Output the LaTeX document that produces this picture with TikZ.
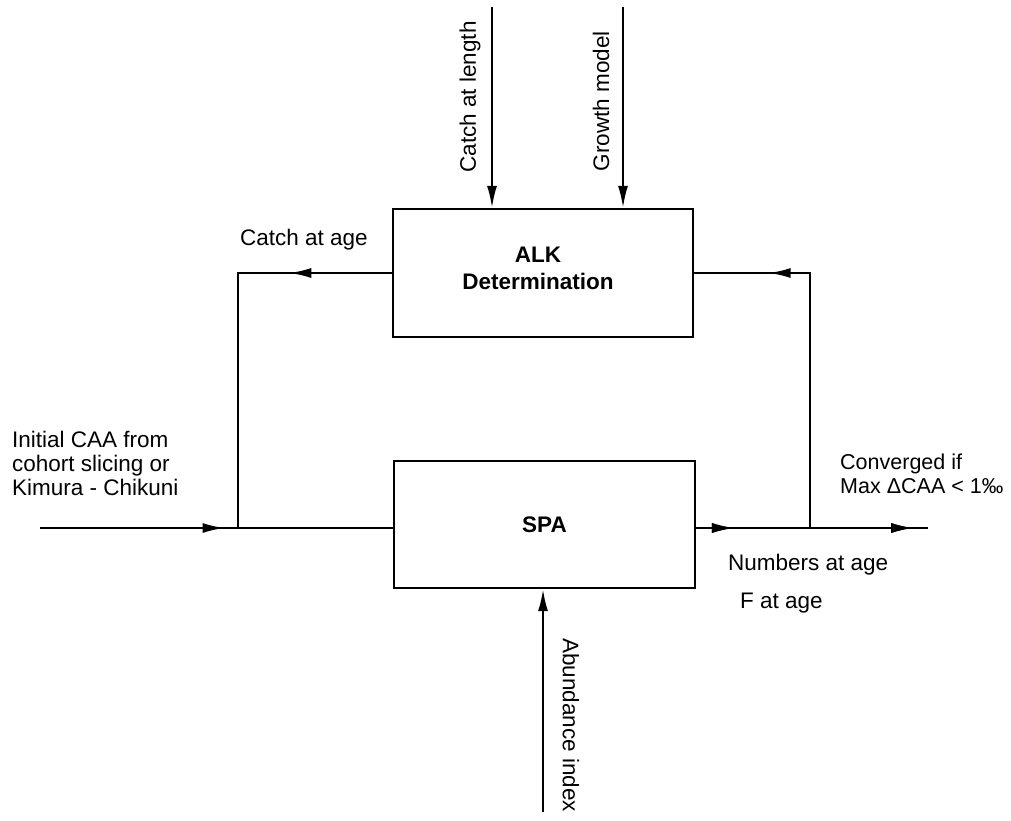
\documentclass[tikz,border=0pt]{standalone}
\usepackage{fontspec}
\setmainfont{Liberation Sans}
\usetikzlibrary{arrows.meta,decorations.markings}
\tikzset{
  box/.style={draw, line width=2.2pt, inner sep=0pt, font=\fontsize{22.5}{24}\selectfont\bfseries},
  line/.style={line width=2.2pt},
  tip/.style={-{Latex[length=22pt,width=10pt]}},
  tipat/.style={decoration={markings, mark=at position #1 with {\arrow{Latex[length=22pt,width=10pt]}}}, postaction=decorate},
  lbl/.style={inner sep=0pt, font=\fontsize{22.5}{24}\selectfont, align=left},
}
\begin{document}
\begin{tikzpicture}[x=1pt,y=-1pt]
\useasboundingbox (0,0) rectangle (1011,820);
% boxes
\node[box, minimum width=300pt, minimum height=128pt] (alk) at (543,273) {};
\node[lbl, font=\fontsize{22.5}{27}\selectfont\bfseries, align=center] (alkt) at (538,268) {ALK\\Determination};
\node[box, minimum width=301pt, minimum height=127pt] (spa) at (544.5,524.5) {SPA};
% coordinates
\coordinate (in0) at (40,528);
\coordinate (j1) at (238,528);
\coordinate (j2) at (810,528);
\coordinate (out) at (928,528);
\coordinate (cl) at (492,7);
\coordinate (gm) at (623,7);
\coordinate (ai) at (543,812);
% connectors
\draw[line, tipat=0.523] (in0) -- (in0 -| spa.west);
\draw[line, tipat=0.251] (alk.west) -| (j1);
\draw[line, tipat=0.163, tipat=0.936] (spa.east |- out) -- (out);
\draw[line, tipat=0.799] (j2) |- (alk.east);
\draw[line, tip] (cl) -- (cl |- alk.north);
\draw[line, tip] (gm) -- (gm |- alk.north);
\draw[line, tip] (ai) -- (ai |- spa.south);
% labels
\node[lbl, rotate=90] (lcl) at (470,97) {Catch at length};
\node[lbl, rotate=90] (lgm) at (601,101) {Growth model};
\node[lbl, rotate=-90] (lai) at (571,725) {Abundance index};
\node[lbl, anchor=base west] (lca) at (240,245) {Catch at age};
\node[lbl, anchor=north west] (lin) at (12,431) {Initial CAA from\\cohort slicing or\\Kimura - Chikuni};
\node[lbl, anchor=north west, font=\fontsize{21.5}{24}\selectfont] (lcv) at (840,454) {Converged if\\Max ΔCAA < 1‰};
\node[lbl, anchor=base west] (lna) at (728,570) {Numbers at age};
\node[lbl, anchor=base west] (lfa) at (740,608) {F at age};
\end{tikzpicture}
\end{document}
